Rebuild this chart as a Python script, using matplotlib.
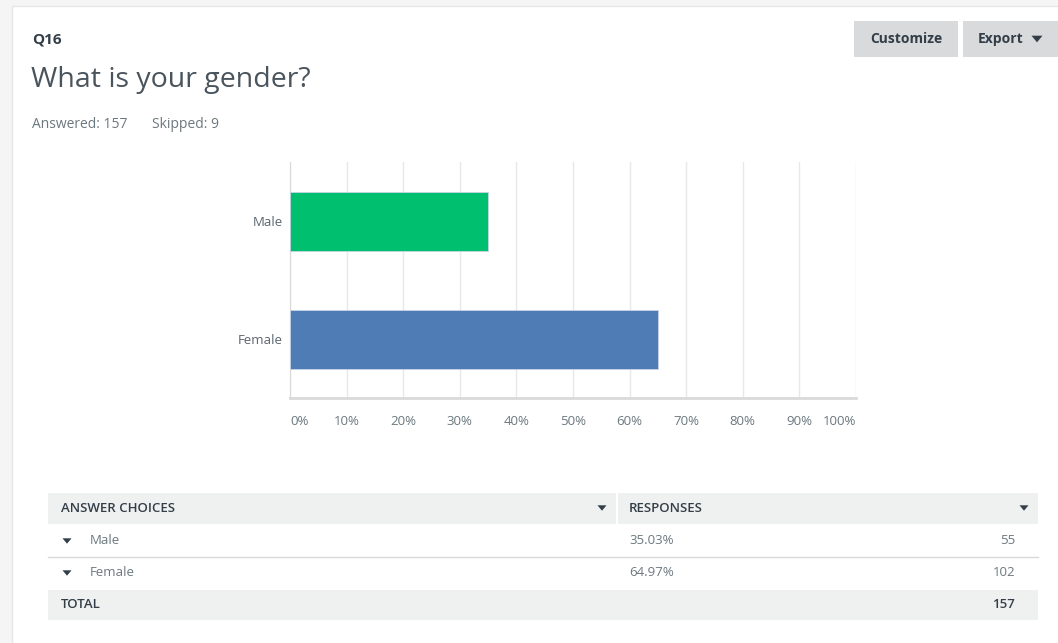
import matplotlib
matplotlib.use("Agg")
import matplotlib.pyplot as plt
from matplotlib.patches import Rectangle, Polygon

plt.rcParams['font.family'] = ['Open Sans', 'DejaVu Sans']

# data
question_id = "Q16"
question = "What is your gender?"
answered = 157
skipped = 9
choices = ["Male", "Female"]
percents = [35.03, 64.97]
counts = [55, 102]
bar_colors = ["#00bf6f", "#507cb6"]
tick_values = [0, 10, 20, 30, 40, 50, 60, 70, 80, 90, 100]

W, H = 1058, 643
dark = "#333e48"
gray = "#6b787f"
light = "#eff0f0"


def fx(x):
    return x / W


def fy(y):
    return 1 - y / H


def box(x0, y0, x1, y1, color, ec="none", lw=0, z=0):
    fig.patches.append(Rectangle((fx(x0), fy(y1)), fx(x1) - fx(x0), fy(y0) - fy(y1),
                                 transform=fig.transFigure, facecolor=color,
                                 edgecolor=ec, linewidth=lw, zorder=z))


def tri(xc, yc, s, color):
    pts = [(fx(xc - s), fy(yc - s * 0.6)), (fx(xc + s), fy(yc - s * 0.6)), (fx(xc), fy(yc + s * 0.6))]
    fig.patches.append(Polygon(pts, closed=True, transform=fig.transFigure,
                               facecolor=color, edgecolor="none", zorder=3))


fig = plt.figure(figsize=(W / 100, H / 100), dpi=100)
fig.patch.set_facecolor("#f5f5f5")
box(12, 6, W + 5, H + 5, "white", ec="#e6e6e6", lw=1, z=-5)

# header
fig.text(fx(32), fy(39), question_id, fontsize=11, fontweight="bold", color=dark, va="center")
fig.text(fx(31), fy(80), question, fontsize=20.5, color="#4a545c", va="center")
fig.text(fx(32), fy(125), f"Answered: {answered}", fontsize=10, color=gray, va="center")
fig.text(fx(152), fy(125), f"Skipped: {skipped}", fontsize=10, color=gray, va="center")

# buttons
box(854, 21, 958, 57, "#d8dadb", z=1)
fig.text(fx(906), fy(39), "Customize", fontsize=10, fontweight="bold", color=dark, ha="center", va="center")
box(963, 21, W + 5, 57, "#d8dadb", z=1)
fig.text(fx(978), fy(39), "Export", fontsize=10, fontweight="bold", color=dark, va="center")
tri(1037, 39, 5.5, dark)

# chart
ax = fig.add_axes([fx(290), fy(398), fx(856) - fx(290), fy(162) - fy(398)])
ax.set_zorder(5)
ax.barh(range(len(choices)), percents, height=0.5, color=bar_colors, edgecolor="#c8d4e6", linewidth=0.6, zorder=3)
ax.set_xlim(0, 100)
ax.set_ylim(1.5, -0.5)
ax.set_yticks(range(len(choices)))
ax.set_yticklabels(choices, fontsize=9.5, color="#5a6670")
ax.set_xticks(tick_values)
ax.set_xticklabels([f"{v}%" for v in tick_values], fontsize=9.5, color=gray)
labels = ax.get_xticklabels()
labels[0].set_ha("left")
labels[-1].set_ha("right")
ax.tick_params(axis="both", length=0)
ax.tick_params(axis="x", pad=12)
ax.tick_params(axis="y", pad=5)
ax.grid(axis="x", color="#e8e8e8", linewidth=1, zorder=0)
for s in ["top", "right"]:
    ax.spines[s].set_visible(False)
ax.spines["left"].set_color("#d9d9d9")
ax.spines["bottom"].set_color("#d9d9d9")
ax.spines["bottom"].set_linewidth(2)

# table
x0, xm, x1 = 48, 617, 1038
box(x0, 493, x1, 524, light)
fig.lines.append(plt.Line2D([fx(xm), fx(xm)], [fy(493), fy(524)], transform=fig.transFigure, color="white", lw=1.5))
fig.text(fx(61), fy(508), "ANSWER CHOICES", fontsize=9.5, fontweight="semibold", color=dark, va="center")
tri(602, 508, 4.5, dark)
fig.text(fx(629), fy(508), "RESPONSES", fontsize=9.5, fontweight="semibold", color=dark, va="center")
tri(1024, 508, 4.5, dark)

row_y = [541, 573]
for i, (c, p, n) in enumerate(zip(choices, percents, counts)):
    y = row_y[i]
    tri(67, y, 4.5, dark)
    fig.text(fx(90), fy(y), c, fontsize=9.5, color=gray, va="center")
    fig.text(fx(629), fy(y), f"{p:.2f}%", fontsize=9.5, color=gray, va="center")
    fig.text(fx(1015), fy(y), str(n), fontsize=9.5, color=gray, va="center", ha="right")
fig.lines.append(plt.Line2D([fx(x0), fx(x1)], [fy(557), fy(557)], transform=fig.transFigure, color="#d9d9d9", lw=1))

box(x0, 590, x1, 620, light)
fig.text(fx(61), fy(605), "TOTAL", fontsize=9.5, fontweight="semibold", color=dark, va="center")
fig.text(fx(1015), fy(605), str(sum(counts)), fontsize=9.5, fontweight="semibold", color=dark, va="center", ha="right")

fig.savefig("out.png", dpi=100)
